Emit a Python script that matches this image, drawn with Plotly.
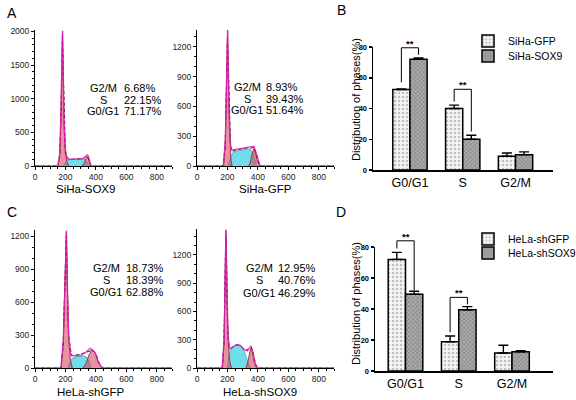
import plotly.graph_objects as go

# ---------------- data ----------------
phases = ["G0/G1", "S", "G2/M"]

siha_names = ["SiHa-GFP", "SiHa-SOX9"]
siha_gfp_pct = [52.3, 40.0, 8.9]
siha_gfp_err = [0.4, 2.2, 2.2]
siha_sox9_pct = [72.0, 20.0, 10.0]
siha_sox9_err = [0.8, 2.6, 1.8]

hela_names = ["HeLa-shGFP", "HeLa-shSOX9"]
hela_gfp_pct = [72.0, 18.8, 11.6]
hela_gfp_err = [4.5, 3.8, 5.0]
hela_sox9_pct = [49.5, 39.5, 12.4]
hela_sox9_err = [2.0, 2.0, 0.7]

# significance brackets: (category index, left-end value, top value, right-end value)
siha_brackets = [(0, 57, 79.5, 75), (1, 44.5, 52.5, 25)]
hela_brackets = [(0, 79, 84, 52), (1, 25, 47.5, 43)]

stat_labels = ["G2/M", "S", "G0/G1"]
siha_sox9_stats = ["6.68%", "22.15%", "71.17%"]
siha_gfp_stats = ["8.93%", "39.43%", "51.64%"]
hela_shgfp_stats = ["18.73%", "18.39%", "62.88%"]
hela_shsox9_stats = ["12.95%", "40.76%", "46.29%"]

# DNA content histograms (channel, count)
sox9_g1_x = [152, 164, 172, 181, 190, 199, 210, 222]
sox9_g1_y = [0, 200, 900, 2000, 650, 200, 60, 0]
sox9_s_x = [185, 200, 215, 260, 300, 330, 345, 360]
sox9_s_y = [0, 50, 95, 100, 102, 95, 40, 0]
sox9_g2_x = [310, 325, 335, 341, 348, 356, 366]
sox9_g2_y = [0, 50, 115, 140, 115, 50, 0]
sox9_fit_x = [0, 150, 164, 172, 181, 190, 199, 210, 222, 260, 300, 325, 341, 350, 358, 368, 900]
sox9_fit_y = [0, 0, 200, 900, 2010, 700, 250, 130, 100, 100, 105, 125, 165, 150, 70, 0, 0]
sox9_dat_x = [0, 150, 162, 172, 180, 186, 192, 200, 210, 230, 260, 300, 320, 338, 348, 358, 370, 900]
sox9_dat_y = [0, 0, 150, 850, 1950, 1400, 600, 200, 120, 100, 100, 110, 115, 150, 140, 60, 0, 0]

gfp_g1_x = [175, 186, 194, 201, 208, 215, 222, 230]
gfp_g1_y = [0, 250, 800, 1370, 700, 250, 80, 0]
gfp_s_x = [205, 220, 240, 280, 320, 350, 370, 392]
gfp_s_y = [0, 90, 140, 160, 168, 170, 130, 0]
gfp_g2_x = [340, 352, 364, 374, 384, 396, 412]
gfp_g2_y = [0, 50, 130, 175, 130, 50, 0]
gfp_fit_x = [0, 172, 186, 194, 201, 208, 215, 225, 245, 280, 320, 350, 374, 390, 405, 415, 900]
gfp_fit_y = [0, 0, 250, 800, 1380, 700, 300, 160, 165, 170, 180, 190, 200, 130, 40, 0, 0]
gfp_dat_x = [0, 172, 185, 195, 200, 205, 212, 220, 235, 260, 300, 340, 360, 375, 390, 405, 418, 900]
gfp_dat_y = [0, 0, 200, 900, 1300, 1100, 500, 200, 150, 165, 175, 185, 180, 190, 110, 30, 0, 0]

shgfp_g1_x = [172, 186, 196, 206, 214, 222, 232, 245]
shgfp_g1_y = [0, 250, 750, 1240, 650, 250, 80, 0]
shgfp_s_x = [215, 235, 255, 290, 320, 340, 355, 368]
shgfp_s_y = [0, 70, 100, 105, 110, 100, 60, 0]
shgfp_g2_x = [315, 335, 355, 375, 395, 415, 440]
shgfp_g2_y = [0, 40, 120, 165, 140, 50, 0]
shgfp_fit_x = [0, 170, 186, 196, 207, 214, 222, 235, 260, 300, 330, 350, 362, 378, 395, 415, 440, 900]
shgfp_fit_y = [0, 0, 250, 750, 1250, 650, 280, 120, 110, 115, 140, 165, 180, 165, 140, 60, 0, 0]
shgfp_dat_x = [0, 170, 185, 195, 205, 212, 220, 240, 270, 300, 330, 350, 370, 385, 400, 420, 445, 900]
shgfp_dat_y = [0, 0, 200, 700, 1200, 800, 300, 110, 115, 125, 140, 150, 160, 150, 130, 50, 0, 0]

shsox9_g1_x = [168, 178, 185, 190, 196, 204, 214, 226]
shsox9_g1_y = [0, 300, 1000, 1460, 900, 300, 80, 0]
shsox9_s_x = [200, 212, 230, 260, 285, 310, 335, 350]
shsox9_s_y = [0, 150, 210, 250, 240, 180, 60, 0]
shsox9_g2_x = [322, 335, 347, 355, 363, 375, 392]
shsox9_g2_y = [0, 70, 170, 210, 170, 60, 0]
shsox9_fit_x = [0, 165, 178, 185, 190, 196, 204, 214, 230, 260, 285, 310, 330, 345, 355, 368, 380, 395, 900]
shsox9_fit_y = [0, 0, 300, 1000, 1470, 900, 350, 200, 215, 250, 240, 195, 180, 210, 235, 170, 60, 0, 0]
shsox9_dat_x = [0, 165, 177, 184, 189, 194, 200, 210, 225, 250, 270, 295, 320, 340, 356, 370, 385, 400, 900]
shsox9_dat_y = [0, 0, 250, 900, 1400, 1200, 500, 220, 210, 240, 245, 220, 190, 200, 225, 150, 40, 0, 0]

# ---------------- layout helpers ----------------
W, H = 576, 400
FONT = "Liberation Sans, Arial, sans-serif"


def fx(p):
    return p / W


def fy(p):
    return 1 - p / H


fig = go.Figure()
annotations = []
shapes = []

hist_panels = [
    dict(title="SiHa-SOX9", g1=(sox9_g1_x, sox9_g1_y), s=(sox9_s_x, sox9_s_y), g2=(sox9_g2_x, sox9_g2_y),
         fit=(sox9_fit_x, sox9_fit_y), dat=(sox9_dat_x, sox9_dat_y), stats=siha_sox9_stats,
         xpx=(35, 172), ypx=(166, 30), ymax=2020, dtick=500, minor=100,
         lc=103, vl=122, rows=(88, 100, 111), tpos=(85, 189)),
    dict(title="SiHa-GFP", g1=(gfp_g1_x, gfp_g1_y), s=(gfp_s_x, gfp_s_y), g2=(gfp_g2_x, gfp_g2_y),
         fit=(gfp_fit_x, gfp_fit_y), dat=(gfp_dat_x, gfp_dat_y), stats=siha_gfp_stats,
         xpx=(197, 334), ypx=(166, 30), ymax=1370, dtick=300, minor=100,
         lc=247, vl=264, rows=(87, 99, 110), tpos=(265, 189)),
    dict(title="HeLa-shGFP", g1=(shgfp_g1_x, shgfp_g1_y), s=(shgfp_s_x, shgfp_s_y), g2=(shgfp_g2_x, shgfp_g2_y),
         fit=(shgfp_fit_x, shgfp_fit_y), dat=(shgfp_dat_x, shgfp_dat_y), stats=hela_shgfp_stats,
         xpx=(35, 172), ypx=(368, 230), ymax=1255, dtick=300, minor=100,
         lc=106, vl=124, rows=(268, 280, 292), tpos=(90, 391.5)),
    dict(title="HeLa-shSOX9", g1=(shsox9_g1_x, shsox9_g1_y), s=(shsox9_s_x, shsox9_s_y), g2=(shsox9_g2_x, shsox9_g2_y),
         fit=(shsox9_fit_x, shsox9_fit_y), dat=(shsox9_dat_x, shsox9_dat_y), stats=hela_shsox9_stats,
         xpx=(197, 334), ypx=(368, 229), ymax=1475, dtick=300, minor=100,
         lc=259, vl=276, rows=(268, 280, 293), tpos=(260, 391.5)),
]

PINK = "rgba(210,70,90,0.58)"
CYAN = "rgba(110,222,234,1)"
axis_font = dict(family=FONT, size=8.5, color="#222")

for i, p in enumerate(hist_panels):
    n = i + 1
    sfx = "" if n == 1 else str(n)
    xa, ya = "x" + sfx, "y" + sfx
    fig.add_trace(go.Scatter(x=p["s"][0], y=p["s"][1], xaxis=xa, yaxis=ya, mode="lines", fill="tozeroy",
                             fillcolor=CYAN, line=dict(color="rgba(40,120,170,0.7)", width=0.8),
                             showlegend=False, hoverinfo="skip"))
    for key in ("g1", "g2"):
        fig.add_trace(go.Scatter(x=p[key][0], y=p[key][1], xaxis=xa, yaxis=ya, mode="lines", fill="tozeroy",
                                 fillcolor=PINK, line=dict(color="#a0283a", width=0.9),
                                 showlegend=False, hoverinfo="skip"))
    fig.add_trace(go.Scatter(x=p["dat"][0], y=p["dat"][1], xaxis=xa, yaxis=ya, mode="lines",
                             line=dict(color="#3a0d10", width=1.0, dash="4px,2px"),
                             showlegend=False, hoverinfo="skip"))
    fig.add_trace(go.Scatter(x=p["fit"][0], y=p["fit"][1], xaxis=xa, yaxis=ya, mode="lines",
                             line=dict(color="rgba(228,30,190,0.85)", width=1.3), showlegend=False,
                             hoverinfo="skip"))
    fig.layout["xaxis" + sfx] = dict(
        domain=[fx(p["xpx"][0]), fx(p["xpx"][1])], anchor=ya, range=[0, 900],
        tick0=0, dtick=200, ticks="outside", ticklen=3, tickcolor="black",
        minor=dict(tick0=0, dtick=50, ticks="outside", ticklen=2, tickcolor="black"),
        showline=True, linecolor="black", linewidth=1, showgrid=False, zeroline=False,
        tickfont=axis_font, fixedrange=True, automargin=False)
    fig.layout["yaxis" + sfx] = dict(
        domain=[fy(p["ypx"][0]), fy(p["ypx"][1])], anchor=xa, range=[0, p["ymax"]],
        tick0=0, dtick=p["dtick"], ticks="outside", ticklen=3, tickcolor="black",
        minor=dict(tick0=0, dtick=p["minor"], ticks="outside", ticklen=2, tickcolor="black"),
        showline=True, linecolor="black", linewidth=1, showgrid=False, zeroline=False,
        tickfont=axis_font, fixedrange=True, automargin=False)
    for lab, val, row in zip(stat_labels, p["stats"], p["rows"]):
        annotations.append(dict(x=fx(p["lc"]), y=fy(row), xref="paper", yref="paper", text=lab,
                                showarrow=False, xanchor="center", yanchor="middle",
                                font=dict(family=FONT, size=11, color="black")))
        annotations.append(dict(x=fx(p["vl"]), y=fy(row), xref="paper", yref="paper", text=val,
                                showarrow=False, xanchor="left", yanchor="middle",
                                font=dict(family=FONT, size=11, color="black")))
    annotations.append(dict(x=fx(p["tpos"][0]), y=fy(p["tpos"][1]), xref="paper", yref="paper",
                            text=p["title"], showarrow=False, xanchor="center", yanchor="middle",
                            font=dict(family=FONT, size=11.5, color="black")))

# ---------------- bar panels ----------------
BARGAP = 0.35
HALF = (1 - BARGAP) / 4  # offset of each bar centre from the category centre

bar_panels = [
    dict(names=siha_names, a=(siha_gfp_pct, siha_gfp_err), b=(siha_sox9_pct, siha_sox9_err),
         brackets=siha_brackets, xpx=(373, 553), ypx=(170, 47), xr=(-0.70, 2.71),
         legends=(("legend", 41), ("legend2", 56)), ytitle=100),
    dict(names=hela_names, a=(hela_gfp_pct, hela_gfp_err), b=(hela_sox9_pct, hela_sox9_err),
         brackets=hela_brackets, xpx=(375, 553), ypx=(371, 247), xr=(-0.573, 2.77),
         legends=(("legend3", 239), ("legend4", 253)), ytitle=304),
]

light = dict(color="#f2f2f2", line=dict(color="black", width=1.5),
             pattern=dict(shape=".", bgcolor="#f4f4f4", fgcolor="#8a8a8a", size=4, solidity=0.3))
dark = dict(color="#a0a0a0", line=dict(color="black", width=1.5),
            pattern=dict(shape="x", bgcolor="#ababab", fgcolor="#444444", size=3, solidity=0.35))

legend_layout = {}
for j, p in enumerate(bar_panels):
    n = 5 + j
    xa, ya = f"x{n}", f"y{n}"
    for (vals, errs), name, mk, (lg, ly) in zip((p["a"], p["b"]), p["names"], (light, dark), p["legends"]):
        fig.add_trace(go.Bar(x=phases, y=vals, name=name, xaxis=xa, yaxis=ya, marker=mk,
                             legend=lg, offsetgroup=name,
                             error_y=dict(type="data", array=errs, arrayminus=[0] * len(errs),
                                          symmetric=False, color="black", thickness=1.4, width=5)))
        legend_layout[lg] = dict(x=fx(468), y=fy(ly), xanchor="left", yanchor="middle",
                                 bgcolor="rgba(0,0,0,0)", borderwidth=0,
                                 font=dict(family=FONT, size=10.5, color="#000000"))
    fig.layout[f"xaxis{n}"] = dict(
        domain=[fx(p["xpx"][0]), fx(p["xpx"][1])], anchor=ya, type="category",
        range=list(p["xr"]), showline=True, linecolor="black", linewidth=1.5, ticks="",
        showgrid=False, zeroline=False, tickfont=dict(family=FONT, size=12.5, color="black"),
        fixedrange=True, automargin=False)
    fig.layout[f"yaxis{n}"] = dict(
        domain=[fy(p["ypx"][0]), fy(p["ypx"][1])], anchor=xa, range=[0, 80], dtick=20,
        ticks="outside", ticklen=3, tickwidth=1.5, tickcolor="black",
        showline=True, linecolor="black", linewidth=1.5, showgrid=False, zeroline=False,
        tickfont=dict(family=FONT, size=7.5, color="black", weight="bold"), fixedrange=True,
        automargin=False)

    x0, x1 = p["xpx"]
    r0, r1 = p["xr"]
    yb, yt = p["ypx"]

    def bx(v, x0=x0, x1=x1, r0=r0, r1=r1):
        return fx(x0 + (v - r0) / (r1 - r0) * (x1 - x0))

    def by(v, yb=yb, yt=yt):
        return fy(yb - v / 80 * (yb - yt))

    for (ci, lv, top, rv) in p["brackets"]:
        xl, xr_ = ci - HALF, ci + HALF
        shapes.append(dict(type="path", xref="paper", yref="paper",
                           path=f"M{bx(xl)},{by(lv)} L{bx(xl)},{by(top)} L{bx(xr_)},{by(top)} L{bx(xr_)},{by(rv)}",
                           line=dict(color="black", width=1)))
        annotations.append(dict(x=bx(ci), y=by(top), xref="paper", yref="paper", text="**",
                                showarrow=False, xanchor="center", yanchor="bottom", yshift=-3,
                                font=dict(family=FONT, size=9.5, color="#000000", weight="bold")))
    annotations.append(dict(x=fx(356), y=fy(p["ytitle"]), xref="paper", yref="paper",
                            text="Distribution of phases(%)", textangle=-90, showarrow=False,
                            xanchor="center", yanchor="middle",
                            font=dict(family=FONT, size=11, color="black")))

# panel letters
for letter, (px_, py_) in zip(["A", "B", "C", "D"], [(12, 13), (341, 10), (12, 212), (341, 212)]):
    annotations.append(dict(x=fx(px_), y=fy(py_), xref="paper", yref="paper", text=letter,
                            showarrow=False, xanchor="center", yanchor="middle",
                            font=dict(family=FONT, size=14, color="black")))

fig.update_layout(
    width=W, height=H, margin=dict(l=0, r=0, t=0, b=0, autoexpand=False),
    paper_bgcolor="white", plot_bgcolor="white",
    barmode="group", bargap=BARGAP, bargroupgap=0,
    font=dict(family=FONT, color="black"),
    annotations=annotations, shapes=shapes, showlegend=True,
    **legend_layout,
)

fig.write_html("out.html", config={"displayModeBar": False, "staticPlot": True},
               post_script="document.body.style.margin='0px';document.body.style.overflow='hidden';")
